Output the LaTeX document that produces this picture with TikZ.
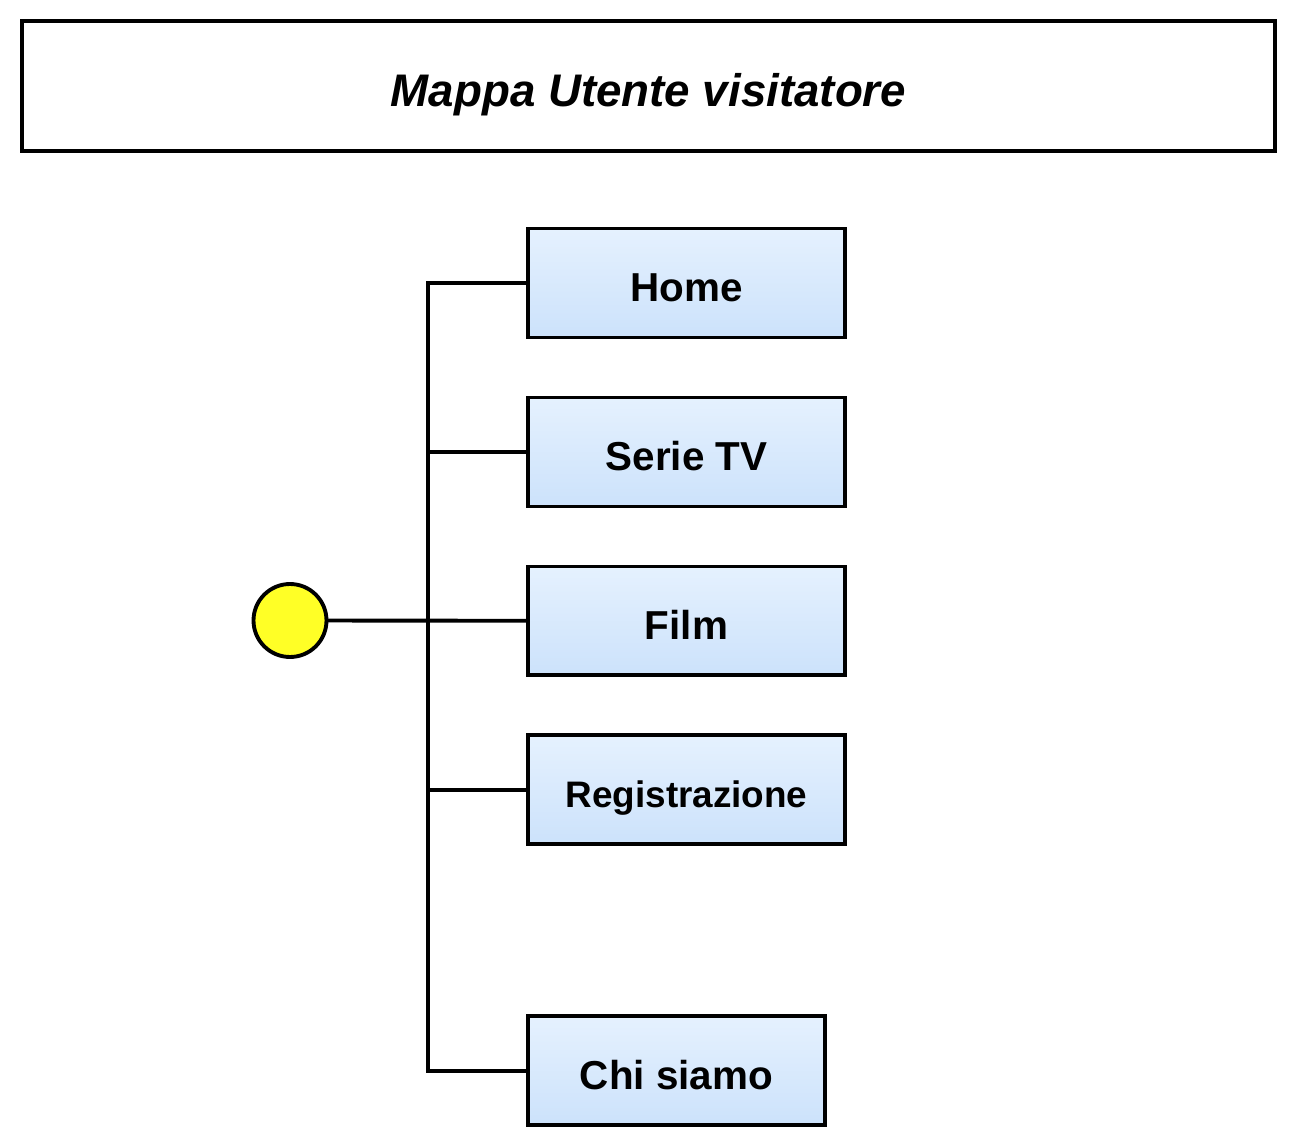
\documentclass[tikz,border=0pt]{standalone}
\usepackage{fontspec}
\setmainfont{Liberation Sans}
\usepackage{xcolor}
\usetikzlibrary{positioning}
\definecolor{boxtop}{RGB}{229,241,254}
\definecolor{boxbottom}{RGB}{204,226,251}
\definecolor{dotyellow}{RGB}{255,255,38}
\tikzset{
  titlebox/.style={rectangle, draw=black, line width=2.2pt, minimum width=25.08cm, minimum height=2.6cm, align=center, text height=22.8pt, text depth=0pt, font=\bfseries\itshape\fontsize{26}{30}\selectfont},
  pagebox/.style={rectangle, minimum width=6.34cm, minimum height=2.18cm, outer sep=0pt, align=center, draw=black, top color=boxtop, bottom color=boxbottom, text height=21pt, text depth=0pt, font=\bfseries\fontsize{23}{27}\selectfont, line width=2.2pt},
  rootdot/.style={circle, minimum size=1.46cm, inner sep=0pt, outer sep=0pt, draw=black, fill=dotyellow, line width=2.2pt},
  link/.style={line width=2.2pt},
}
\begin{document}
\begin{tikzpicture}[x=0.02cm, y=-0.02cm, node distance=1.2cm]
\useasboundingbox (0,0) rectangle (1296,1138);
\node (title) [titlebox] at (648.5,86) {Mappa Utente visitatore};
\node (home)  [pagebox] at (686.5,283) {Home};
\node (serie) [pagebox, below=of home] {Serie TV};
\node (film)  [pagebox, below=of serie] {Film};
\node (reg)   [pagebox, below=of film, text height=19.5pt, font=\bfseries\fontsize{21}{25}\selectfont] {Registrazione};
\node (chi)   [pagebox, minimum width=5.94cm, below=3.44cm of reg.south west, anchor=north west] {Chi siamo};
\node (dot)   [rootdot] at (290,620.5) {};
\coordinate (bus) at (428,0);
\draw[link] (home.west) -- (home.west -| bus) -- (chi.west -| bus) -- (chi.west);
\foreach \n in {serie,reg}
  \draw[link] (\n.west) -- (\n.west -| bus);
\draw[link] (dot) -- (film);
\end{tikzpicture}
\end{document}
